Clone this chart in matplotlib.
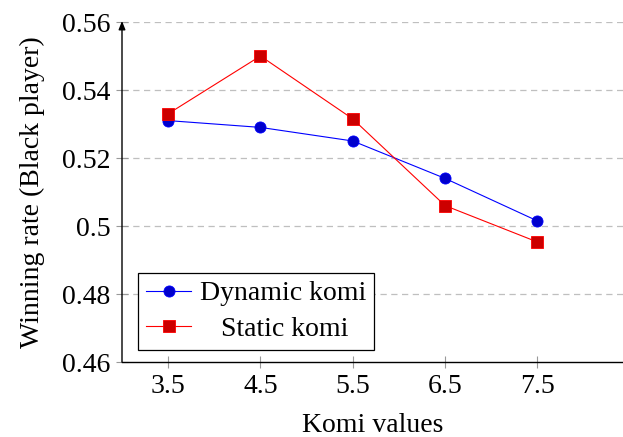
import numpy as np
import matplotlib.pyplot as plt

komi = [3.5, 4.5, 5.5, 6.5, 7.5]
dynamic_komi = [0.531, 0.529, 0.525, 0.514, 0.5015]
static_komi = [0.533, 0.550, 0.5315, 0.506, 0.4953]
yticks = [0.46, 0.48, 0.50, 0.52, 0.54, 0.56]
ytick_labels = ["0.46", "0.48", "0.5", "0.52", "0.54", "0.56"]

plt.rcParams['font.family'] = ['Liberation Serif', 'DejaVu Serif']
fs = 20

W, H = 623, 437
fig = plt.figure(figsize=(W / 100, H / 100), dpi=100)
ax = fig.add_axes([122 / W, (H - 362) / H, (W - 122) / W, 340 / H])

for y in yticks[1:]:
  ax.axhline(y, color=(0.75, 0.75, 0.75), lw=0.9, ls=(0, (5, 3.6)), zorder=0)

ax.plot(komi, dynamic_komi, "-o", color="blue", lw=0.8, ms=8,
        mfc=(0, 0, 0.8), mec="blue", mew=0.6, label="Dynamic komi")
ax.plot(komi, static_komi, "-s", color="red", lw=0.8, ms=8,
        mfc=(0.8, 0, 0), mec="red", mew=0.6, label="   Static komi")

ax.set_xlim(3, 3 + (W - 122) / 92.3)
ax.set_ylim(0.46, 0.56)
ax.set_xticks(komi)
ax.set_xticklabels([str(k) for k in komi], fontsize=fs)
ax.set_yticks(yticks)
ax.set_yticklabels(ytick_labels, fontsize=fs)
ax.tick_params(direction="inout", length=9, width=0.8, color=(0.6, 0.6, 0.6), pad=4)

for s in ["top", "right", "left"]:
  ax.spines[s].set_visible(False)
ax.spines["bottom"].set_linewidth(1.0)
ax.annotate("", xy=(0, 1.003), xytext=(0, 0), xycoords="axes fraction",
            arrowprops=dict(arrowstyle="-|>,head_length=0.5,head_width=0.2",
                            lw=1.0, color="black", shrinkA=0, shrinkB=0))

ax.set_xlabel("Komi values", fontsize=fs, labelpad=10)
ax.set_ylabel("Winning rate (Black player)", fontsize=fs, labelpad=12)

leg = ax.legend(loc="lower left", bbox_to_anchor=(138 / W, (H - 350) / H),
                bbox_transform=fig.transFigure, fontsize=fs, fancybox=False,
                framealpha=1, edgecolor="black", handlelength=1.62,
                handletextpad=0.3, borderpad=0.3, labelspacing=0.35,
                borderaxespad=0)
leg.get_frame().set_linewidth(0.9)

fig.savefig("out.png", dpi=100)
